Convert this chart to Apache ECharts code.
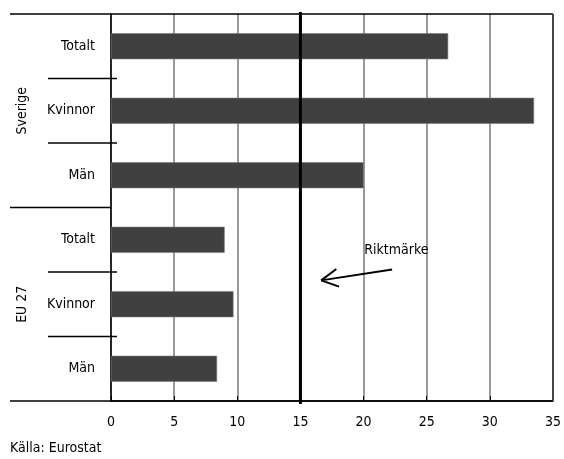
<!DOCTYPE html>
<html><head><meta charset="utf-8">
<script src="https://cdn.jsdelivr.net/npm/echarts@6/dist/echarts.min.js"></script>
<style>html,body{margin:0;padding:0;background:#fff}#c{width:564px;height:459px}</style>
</head><body><div id="c"></div>
<script>
const categories = ['Totalt', 'Kvinnor', 'Män', 'Totalt', 'Kvinnor', 'Män'];
const values = [26.7, 33.5, 20.0, 9.0, 9.7, 8.4];
const groups = ['Sverige', 'EU 27'];
const groupCenters = [1, 4];
const groupBoundaries = [3];
const xMin = 0, xMax = 35, xInterval = 5;
const target = 15;
const annotationText = 'Riktmärke';
const sourceText = 'Källa: Eurostat';

const FONT = '"Liberation Sans Narrow","DejaVu Sans Condensed","Roboto",sans-serif';
const FS = 14;
const chart = echarts.init(document.getElementById('c'), null, {renderer: 'canvas'});
chart.setOption({
  animation: false,
  grid: {left: 111, right: 10, top: 14, bottom: 58, containLabel: false},
  xAxis: {
    type: 'value', min: xMin, max: xMax, interval: xInterval,
    axisLine: {show: true, lineStyle: {color: '#000', width: 1.5}},
    axisTick: {show: true, inside: true, length: 5, lineStyle: {color: '#000', width: 1}},
    splitLine: {show: true, lineStyle: {color: '#999', width: 2}},
    axisLabel: {color: '#000', fontFamily: FONT, fontSize: FS, margin: 14}
  },
  yAxis: {
    type: 'category', inverse: true, data: categories,
    axisLine: {show: true, lineStyle: {color: '#000', width: 1.5}},
    axisTick: {show: false},
    axisLabel: {color: '#000', fontFamily: FONT, fontSize: FS, margin: 16}
  },
  series: [{
    type: 'bar', data: values, barWidth: 26,
    itemStyle: {color: '#404040', borderColor: '#777', borderWidth: 0.6}
  }]
});

const px = (x, i) => chart.convertToPixel({gridIndex: 0}, [x, i]);
const cy0 = px(0, 0)[1];
const step = px(0, 1)[1] - cy0;
const yAt = f => cy0 + f * step;
const bnd = k => yAt(k - 0.5);
const xAt = v => px(v, 0)[0];
const x0 = xAt(xMin), xR = xAt(xMax);
const n = categories.length;
const line = (x1, y1, x2, y2, color, w) => ({type: 'line', shape: {x1, y1, x2, y2}, style: {stroke: color, lineWidth: w}, z: 100});
const els = [];
els.push(line(10, bnd(0), xR, bnd(0), '#000', 1.5));
els.push(line(10, bnd(n), xR, bnd(n), '#000', 1.5));
groupBoundaries.forEach(k => els.push(line(10, bnd(k), x0, bnd(k), '#000', 1.5)));
for (let k = 1; k < n; k++) {
  if (groupBoundaries.indexOf(k) < 0) els.push(line(48, bnd(k), x0 + 6, bnd(k), '#000', 1.5));
}
els.push(line(xR, bnd(0), xR, bnd(n), '#444', 2));
const xt = xAt(target);
els.push(line(xt, bnd(0) - 2, xt, bnd(n) + 3, '#000', 3));
groups.forEach((g, i) => {
  els.push({type: 'text', x: 22, y: yAt(groupCenters[i]), rotation: Math.PI / 2,
    style: {text: g, fill: '#000', font: FS + 'px ' + FONT, align: 'center', verticalAlign: 'middle'}, z: 100});
});
els.push({type: 'text', x: xAt(22.6), y: yAt(3.16),
  style: {text: annotationText, fill: '#000', font: FS + 'px ' + FONT, align: 'center', verticalAlign: 'middle'}, z: 100});
// arrow
const tail = [xAt(22.26), yAt(3.46)];
const head = [xAt(16.64), yAt(3.63)];
els.push(line(tail[0], tail[1], head[0], head[1], '#000', 2));
const ang = Math.atan2(tail[1] - head[1], tail[0] - head[0]);
const wl = 19, wa = 28 * Math.PI / 180;
[ang - wa, ang + wa].forEach(a => {
  els.push(line(head[0], head[1], head[0] + wl * Math.cos(a), head[1] + wl * Math.sin(a), '#000', 2));
});
els.push({type: 'text', x: 10, y: 448,
  style: {text: sourceText, fill: '#000', font: FS + 'px ' + FONT, align: 'left', verticalAlign: 'middle'}, z: 100});
chart.setOption({graphic: {elements: els}});
</script></body></html>
